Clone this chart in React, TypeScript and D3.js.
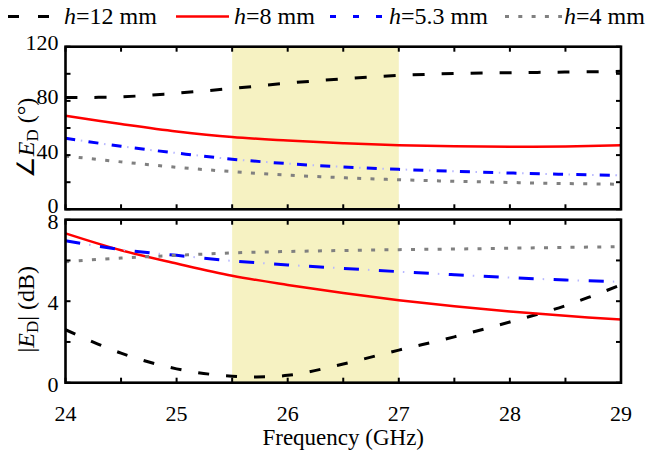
import React from "react";
import * as d3 from "d3";

// ---------- data ----------
const freq = [24, 24.5, 25, 25.5, 26, 26.5, 27, 27.5, 28, 28.5, 29];
const phaseH12 = [82.5, 83, 85.7, 89.2, 93.1, 96.3, 98.8, 100.2, 100.8, 101.3, 101.8];
const phaseH8 = [69, 63, 57.5, 53.3, 50.8, 48.8, 47.3, 46.5, 46.2, 46.4, 47.2];
const phaseH53 = [52.4, 46.5, 41.5, 37, 33.7, 31.3, 29.5, 28, 26.8, 25.8, 25];
const phaseH4 = [39.3, 35, 31, 27.8, 25.2, 23.3, 21.8, 20.7, 19.8, 19, 18.5];
const magH12 = [2.6, 1.45, 0.68, 0.32, 0.36, 0.92, 1.6, 2.25, 2.98, 3.78, 4.8];
const magH8 = [7.33, 6.5, 5.85, 5.25, 4.8, 4.4, 4.05, 3.75, 3.5, 3.28, 3.1];
const magH53 = [6.97, 6.53, 6.25, 5.98, 5.78, 5.61, 5.45, 5.3, 5.16, 5.04, 4.95];
const magH4 = [5.94, 6.12, 6.25, 6.37, 6.44, 6.49, 6.53, 6.56, 6.6, 6.64, 6.68];
const seriesNames = ["12", "8", "5.3", "4"];
const band = [25.5, 27];
const xDomain = [24, 29];
const xTickLabels = [24, 25, 26, 27, 28, 29];
const phaseDomain = [0, 120];
const phaseTickLabels = [0, 40, 80, 120];
const magDomain = [0, 8];
const magTickLabels = [0, 4, 8];

// ---------- styles ----------
const FONT = "'Liberation Serif', 'Times New Roman', serif";
const styles = [
  { color: "#000000", width: 3, dashTop: "12 17", dashBot: "11 17" },
  { color: "#ff0000", width: 2.5, dashTop: "none", dashBot: "none" },
  { color: "#0000ff", width: 3, dashTop: "10 13.3", dashBot: "15 20" },
  { color: "#808080", width: 3, dashTop: "4 9.3", dashBot: "4 9.3" },
];

const L = 65.5, R = 621;
const TOP1 = 46.7, BOT1 = 209.3;
const TOP2 = 219.7, BOT2 = 382.7;

export default function App() {
  const x = d3.scaleLinear().domain(xDomain).range([L, R]);
  const yP = d3.scaleLinear().domain(phaseDomain).range([BOT1, TOP1]);
  const yM = d3.scaleLinear().domain(magDomain).range([BOT2, TOP2]);

  const phaseSeries = [phaseH12, phaseH8, phaseH53, phaseH4];
  const magSeries = [magH12, magH8, magH53, magH4];

  const mk = (ys: number[], yScale: any) =>
    d3
      .line<number>()
      .x((_, i) => x(freq[i]))
      .y((d) => yScale(d))
      .curve(d3.curveCatmullRom.alpha(0.5))(ys) as string;

  const xMinor = d3.range(xDomain[0], xDomain[1] + 0.001, 0.5);
  const pMinor = d3.range(phaseDomain[0], phaseDomain[1] + 0.001, 20);
  const mMinor = d3.range(magDomain[0], magDomain[1] + 0.001, 2);
  const TL = 5;

  const panel = (
    key: string,
    top: number,
    bot: number,
    yScale: any,
    minor: number[],
    labels: number[],
    series: number[][],
    isTop: boolean
  ) => (
    <g key={key}>
      <defs>
        <clipPath id={"clip" + key}>
          <rect x={L} y={top} width={R - L} height={bot - top} />
        </clipPath>
      </defs>
      <rect x={x(band[0])} y={top} width={x(band[1]) - x(band[0])} height={bot - top} fill="#f6f2c2" />
      <g clipPath={`url(#clip${key})`}>
        {series.map((s, i) => {
          const st = styles[i];
          const d = mk(s, yScale);
          const dash = isTop ? st.dashTop : st.dashBot;
          return (
            <g key={i}>
              <path d={d} fill="none" stroke={st.color} strokeWidth={st.width} strokeDasharray={dash} />
              {i === 2 && (
                <path
                  d={d}
                  fill="none"
                  stroke="#b8b8ff"
                  strokeWidth={2}
                  strokeDasharray={isTop ? "1.5 21.8" : "1.5 33.5"}
                  strokeDashoffset={isTop ? -15.6 : -24}
                />
              )}
            </g>
          );
        })}
      </g>
      {xMinor.map((t) => (
        <g key={"xt" + t}>
          <line x1={x(t)} x2={x(t)} y1={bot} y2={bot - TL} stroke="#000" strokeWidth={2} />
          <line x1={x(t)} x2={x(t)} y1={top} y2={top + TL} stroke="#000" strokeWidth={2} />
        </g>
      ))}
      {minor.map((t) => (
        <g key={"yt" + t}>
          <line x1={L} x2={L + TL} y1={yScale(t)} y2={yScale(t)} stroke="#000" strokeWidth={2} />
          <line x1={R} x2={R - TL} y1={yScale(t)} y2={yScale(t)} stroke="#000" strokeWidth={2} />
        </g>
      ))}
      <rect x={L} y={top} width={R - L} height={bot - top} fill="none" stroke="#000" strokeWidth={2.6} />
      {labels.map((t) => (
        <text
          key={"yl" + t}
          x={L - 7}
          y={yScale(t)}
          dy={isTop ? -4 : 1.5}
          textAnchor="end"
          dominantBaseline="central"
          fontFamily={FONT}
          fontSize={22}
        >
          {t}
        </text>
      ))}
    </g>
  );

  const legendX = [
    { x1: 8, x2: 50, tx: 64 },
    { x1: 176, x2: 229, tx: 234 },
    { x1: 330, x2: 386, tx: 389 },
    { x1: 505, x2: 562, tx: 564 },
  ];

  return (
    <svg width={647} height={453} style={{ position: "absolute", left: 0, top: 0, background: "#fff" }}>
      {panel("p", TOP1, BOT1, yP, pMinor, phaseTickLabels, phaseSeries, true)}
      {panel("m", TOP2, BOT2, yM, mMinor, magTickLabels, magSeries, false)}

      {xTickLabels.map((t) => (
        <text key={"xl" + t} x={x(t)} y={421} textAnchor="middle" fontFamily={FONT} fontSize={22}>
          {t}
        </text>
      ))}
      <text x={(L + R) / 2} y={445} textAnchor="middle" fontFamily={FONT} fontSize={23}>
        Frequency (GHz)
      </text>

      <text transform={`translate(34, ${(TOP1 + BOT1) / 2 + 10}) rotate(-90)`} textAnchor="middle" fontFamily={FONT} fontSize={24}>
        ∠<tspan fontStyle="italic">E</tspan>
        <tspan fontSize={17} dy={4}>D</tspan>
        <tspan dy={-4}> (°)</tspan>
      </text>
      <text transform={`translate(34, ${(TOP2 + BOT2) / 2 + 8}) rotate(-90)`} textAnchor="middle" fontFamily={FONT} fontSize={24}>
        |<tspan fontStyle="italic">E</tspan>
        <tspan fontSize={17} dy={4}>D</tspan>
        <tspan dy={-4}>| (dB)</tspan>
      </text>

      {seriesNames.map((n, i) => {
        const st = styles[i];
        const lx = legendX[i];
        return (
          <g key={"lg" + i}>
            <line
              x1={lx.x1}
              x2={lx.x2}
              y1={16.5}
              y2={16.5}
              stroke={st.color}
              strokeWidth={st.width}
              strokeDasharray={i === 0 ? "11 19" : i === 2 ? "6 17" : st.dashTop}
            />
            <text x={lx.tx} y={24} fontFamily={FONT} fontSize={24}>
              <tspan fontStyle="italic">h</tspan>={n} mm
            </text>
          </g>
        );
      })}
    </svg>
  );
}
